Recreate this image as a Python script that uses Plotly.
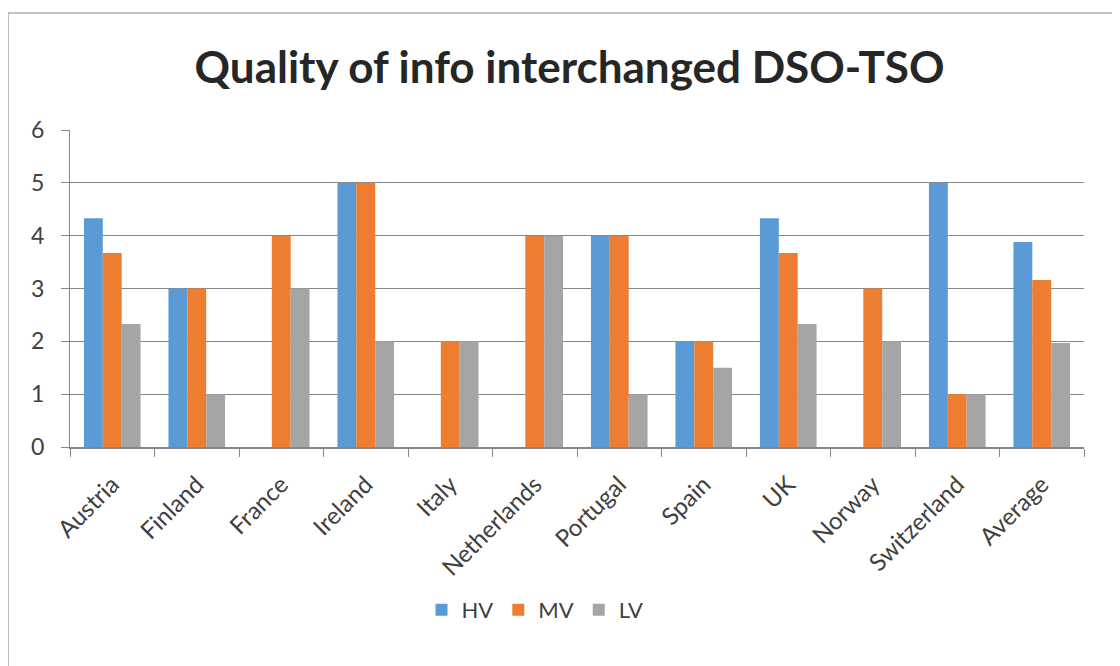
import plotly.graph_objects as go

# chart data
countries = ["Austria", "Finland", "France", "Ireland", "Italy", "Netherlands",
             "Portugal", "Spain", "UK", "Norway", "Switzerland", "Average"]
hv = [4.33, 3, 0, 5, 0, 0, 4, 2, 4.33, 0, 5, 3.88]
mv = [3.67, 3, 4, 5, 2, 4, 4, 2, 3.67, 3, 1, 3.16]
lv = [2.33, 1, 3, 2, 2, 4, 1, 1.5, 2.33, 2, 1, 1.97]

series = [("HV", hv, "#5B9BD5"), ("MV", mv, "#ED7D31"), ("LV", lv, "#A5A5A5")]

fig = go.Figure()
for name, vals, color in series:
    fig.add_trace(go.Bar(x=countries, y=vals, name=name, marker_color=color,
                         marker_line_width=0))

# page has an 8px body margin, so the figure is a bit smaller than the window
fig.update_layout(
    width=1112, height=658,
    margin=dict(l=62, r=36, t=122, b=219),
    paper_bgcolor="white", plot_bgcolor="white",
    font=dict(family="Lato, Carlito, Calibri, sans-serif", color="#595959", size=21),
    title=dict(text="<b>Quality of info interchanged DSO-TSO</b>",
               x=0.505, xanchor="center", y=0.909, yanchor="middle",
               font=dict(size=44, color="#262626")),
    barmode="group", bargap=0.33, bargroupgap=0,
    legend=dict(orientation="h", x=0.4586, xanchor="center", y=-0.514, yanchor="middle",
                font=dict(size=22, color="#404040"), itemwidth=30),
    showlegend=True,
)

fig.update_xaxes(
    tickangle=-45, tickson="boundaries", ticks="outside", ticklen=8,
    tickcolor="#868686", showline=True, linecolor="#868686", linewidth=2,
    showgrid=False, tickfont=dict(size=24, color="#404040"), ticklabelstandoff=12,
)
fig.update_yaxes(
    range=[0, 6], dtick=1, ticks="outside", ticklen=8, tickcolor="#868686",
    showline=True, linecolor="#868686", linewidth=1,
    showgrid=True, gridcolor="#868686", gridwidth=1, zeroline=False,
    tickfont=dict(size=23, color="#404040"), ticklabelstandoff=12,
)

# outer chart border (only left and top edges fall inside the picture)
fig.add_shape(type="rect", xref="paper", yref="paper",
              x0=-0.0611, x1=1.2, y0=-1.2, y1=1.369,
              line=dict(color="#868686", width=1))

fig.write_html("out.html")
